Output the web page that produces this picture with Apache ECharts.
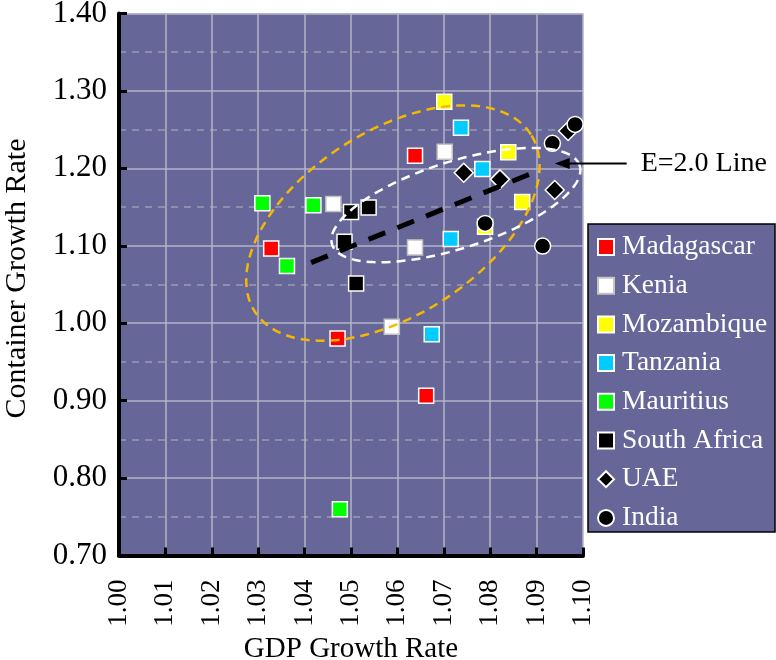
<!DOCTYPE html>
<html><head><meta charset="utf-8">
<script src="https://cdn.jsdelivr.net/npm/echarts@6/dist/echarts.min.js"></script>
<style>html,body{margin:0;padding:0;background:#fff}#c{width:776px;height:660px}</style>
</head><body><div id="c"></div><script>
// ---- data ----
const countries = ['Madagascar','Kenia','Mozambique','Tanzania','Mauritius','South Africa','UAE','India'];
const madagascar  = [[1.0328,1.0966],[1.0638,1.2163],[1.0471,0.9804],[1.0662,0.9062]];
const kenia       = [[1.0462,1.1539],[1.0638,1.0979],[1.0588,0.9953],[1.0702,1.2214]];
const mozambique  = [[1.0701,1.2861],[1.0839,1.2207],[1.0869,1.1565],[1.0789,1.1246]];
const tanzania    = [[1.0737,1.2525],[1.0783,1.1991],[1.0715,1.1087],[1.0674,0.9859]];
const mauritius   = [[1.0309,1.1548],[1.0419,1.1522],[1.0362,1.0738],[1.0476,0.7598]];
const southAfrica = [[1.0500,1.1435],[1.0538,1.1496],[1.0486,1.1052],[1.0511,1.0514]];
const uae         = [[1.0743,1.1943],[1.0821,1.1858],[1.0939,1.1720],[1.0968,1.2482]];
const india       = [[1.0983,1.2568],[1.0934,1.2323],[1.0789,1.1289],[1.0913,1.0996]];
const elasticityLine = [[1.0414,1.0783],[1.0907,1.1978]];
// ellipse: centre, end of one semi-axis, end of the conjugate semi-axis (data units)
const yellowEllipse = [1.05903,1.12933,1.08877,1.24380,1.04832,1.22933];
const whiteEllipse  = [1.07261,1.15258,1.09929,1.20362,1.06976,1.20594];
const arrowTip = [1.0939,1.2062];
const xMin = 1.00, xMax = 1.10, xStep = 0.01;
const yMin = 0.70, yMax = 1.40, yStep = 0.10;
const xName = 'GDP Growth Rate', yName = 'Container Growth Rate', lineLabel = 'E=2.0 Line';

// ---- styles ----
const FONT = "'Liberation Serif', 'Times New Roman', serif";
const seriesData = [madagascar,kenia,mozambique,tanzania,mauritius,southAfrica,uae,india];
const looks = [
  {symbol:'rect', color:'#ff0000', border:'#ffffff', size:15},
  {symbol:'rect', color:'#ffffff', border:'#c4c4c4', size:15},
  {symbol:'rect', color:'#ffff00', border:'#ffffff', size:15},
  {symbol:'rect', color:'#00ccff', border:'#ffffff', size:15},
  {symbol:'rect', color:'#00ff00', border:'#ffffff', size:15},
  {symbol:'rect', color:'#000000', border:'#ffffff', size:15},
  {symbol:'diamond', color:'#000000', border:'#ffffff', size:19},
  {symbol:'circle', color:'#000000', border:'#ffffff', size:16}
];

function renderEllipse(color) {
  return function (params, api) {
    const c = api.coord([api.value(0), api.value(1)]);
    const p = api.coord([api.value(2), api.value(3)]);
    const q = api.coord([api.value(4), api.value(5)]);
    const pts = [];
    for (let i = 0; i < 180; i++) {
      const t = i / 180 * Math.PI * 2;
      pts.push([c[0] + Math.cos(t) * (p[0] - c[0]) + Math.sin(t) * (q[0] - c[0]),
                c[1] + Math.cos(t) * (p[1] - c[1]) + Math.sin(t) * (q[1] - c[1])]);
    }
    return {type:'polygon', shape:{points:pts},
      style:{fill:'none', stroke:color, lineWidth:2.5, lineDash:[9,6]}};
  };
}

const series = countries.map((name, i) => ({
  name, type:'scatter', data: seriesData[i],
  symbol: looks[i].symbol, symbolSize: looks[i].size,
  itemStyle:{color: looks[i].color, borderColor: looks[i].border, borderWidth:1.5, opacity:1},
  emphasis:{disabled:true}, z:2
}));
series.push({type:'line', data: elasticityLine, symbol:'none', silent:true, z:4,
  lineStyle:{color:'#000', width:5, type:[18,13], cap:'butt'}});
series.push({type:'custom', data:[yellowEllipse], renderItem: renderEllipse('#f5b800'), silent:true, z:5});
series.push({type:'custom', data:[whiteEllipse], renderItem: renderEllipse('#ffffff'), silent:true, z:5});

const chart = echarts.init(document.getElementById('c'));
chart.setOption({
  animation:false,
  backgroundColor:'#ffffff',
  textStyle:{fontFamily:FONT},
  grid:{left:119, top:13.5, width:464, height:542, show:true, backgroundColor:'#666699', borderWidth:0,
    containLabel:false, outerBoundsMode:'none'},
  xAxis:{type:'value', min:xMin, max:xMax, interval:xStep,
    name:xName, nameLocation:'middle', nameGap:76,
    nameTextStyle:{fontSize:29, color:'#000', fontFamily:FONT},
    axisLine:{show:true, onZero:false, lineStyle:{color:'#000', width:4}},
    axisTick:{show:true, inside:true, length:8, lineStyle:{color:'#000', width:3}},
    axisLabel:{rotate:90, margin:24, fontSize:27, color:'#000', fontFamily:FONT,
      formatter:v => v.toFixed(2)},
    splitLine:{show:true, lineStyle:{color:'#b4b4c8', width:1.5}}
  },
  yAxis:{type:'value', min:yMin, max:yMax, interval:yStep,
    name:yName, nameLocation:'middle', nameGap:87,
    nameTextStyle:{fontSize:30, color:'#000', fontFamily:FONT, padding:[0,0,0,12]},
    axisLine:{show:true, onZero:false, lineStyle:{color:'#000', width:4}},
    axisTick:{show:true, inside:true, length:8, lineStyle:{color:'#000', width:3}},
    axisLabel:{margin:12, fontSize:31, color:'#000', fontFamily:FONT, formatter:v => v.toFixed(2)},
    splitLine:{show:true, lineStyle:{color:'#b4b4c8', width:1.5}},
    minorTick:{show:false, splitNumber:2},
    minorSplitLine:{show:true, lineStyle:{color:'#9a9ab2', width:1.5, type:[7,6]}}
  },
  legend:{data:countries, orient:'vertical', left:597, top:233, padding:0,
    itemWidth:16, itemHeight:16, itemGap:10.7, z:10, selectedMode:false,
    textStyle:{color:'#ffffff', fontSize:27.5, lineHeight:27, fontFamily:FONT, padding:[0,0,0,3]}},
  series
});

const tip = chart.convertToPixel({gridIndex:0}, arrowTip);
chart.setOption({graphic:[
  {type:'rect', z:0, silent:true, shape:{x:588, y:224, width:187, height:308},
    style:{fill:'#666699', stroke:'#000', lineWidth:1.5}},
  {type:'line', z:20, silent:true, shape:{x1:tip[0]+12, y1:tip[1], x2:tip[0]+72, y2:tip[1]},
    style:{stroke:'#000', lineWidth:2}},
  {type:'polygon', z:20, silent:true,
    shape:{points:[[tip[0], tip[1]], [tip[0]+15, tip[1]-5.5], [tip[0]+15, tip[1]+5.5]]},
    style:{fill:'#000'}},
  {type:'text', z:20, silent:true, x:tip[0]+86, y:tip[1],
    style:{text:lineLabel, fontSize:28, fontFamily:FONT, fill:'#000', align:'left', verticalAlign:'middle'}}
]});
</script></body></html>
